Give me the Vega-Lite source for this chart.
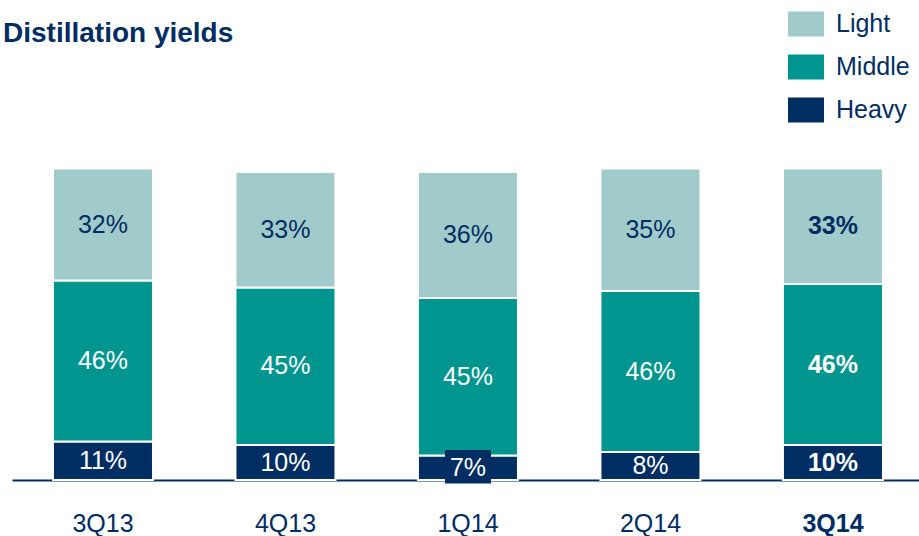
{
  "$schema": "https://vega.github.io/schema/vega-lite/v6.json",
  "width": 907,
  "height": 350,
  "autosize": {"type": "none"},
  "padding": {"left": 12, "top": 130, "right": 0, "bottom": 56},
  "background": "white",
  "title": {
    "text": "Distillation yields",
    "anchor": "start",
    "frame": "group",
    "font": "Liberation Sans",
    "fontSize": 28,
    "fontWeight": "bold",
    "color": "#002D62",
    "dx": -9,
    "baseline": "alphabetic",
    "offset": -64
  },
  "config": {
    "view": {"stroke": null},
    "font": "Liberation Sans"
  },
  "data": {
    "values": [
      {"q": "3Q13", "type": "Heavy", "v": 11},
      {"q": "3Q13", "type": "Middle", "v": 46},
      {"q": "3Q13", "type": "Light", "v": 32},
      {"q": "4Q13", "type": "Heavy", "v": 10},
      {"q": "4Q13", "type": "Middle", "v": 45},
      {"q": "4Q13", "type": "Light", "v": 33},
      {"q": "1Q14", "type": "Heavy", "v": 7},
      {"q": "1Q14", "type": "Middle", "v": 45},
      {"q": "1Q14", "type": "Light", "v": 36},
      {"q": "2Q14", "type": "Heavy", "v": 8},
      {"q": "2Q14", "type": "Middle", "v": 46},
      {"q": "2Q14", "type": "Light", "v": 35},
      {"q": "3Q14", "type": "Heavy", "v": 10},
      {"q": "3Q14", "type": "Middle", "v": 46},
      {"q": "3Q14", "type": "Light", "v": 33}
    ]
  },
  "transform": [
    {"calculate": "indexof(['Heavy','Middle','Light'], datum.type)", "as": "ord"},
    {"stack": "v", "groupby": ["q"], "sort": [{"field": "ord", "order": "ascending"}], "as": ["v0", "v1"]},
    {"calculate": "(datum.v0 + datum.v1) / 2", "as": "mid"},
    {"calculate": "datum.v + '%'", "as": "lab"}
  ],
  "encoding": {
    "x": {
      "field": "q",
      "type": "nominal",
      "sort": null,
      "scale": {"paddingInner": 0.452, "paddingOuter": 0.211, "align": 0.532},
      "axis": {
        "title": null,
        "ticks": false,
        "tickSize": 0,
        "domainColor": "#002D62",
        "domainWidth": 2,
        "labelFont": "Liberation Sans",
        "labelFontSize": 25,
        "labelColor": "#002D62",
        "labelAngle": 0,
        "labelBaseline": "alphabetic",
        "labelPadding": 51,
        "labelFontWeight": {"condition": {"test": "datum.value == '3Q14'", "value": "bold"}, "value": "normal"}
      }
    }
  },
  "layer": [
    {
      "mark": {"type": "bar", "stroke": "white", "strokeWidth": 2},
      "encoding": {
        "y": {"field": "v0", "type": "quantitative", "scale": {"domain": [0, 100]}, "axis": null},
        "y2": {"field": "v1"},
        "color": {
          "field": "type",
          "type": "nominal",
          "scale": {"domain": ["Light", "Middle", "Heavy"], "range": ["#A1CBCA", "#00968F", "#002D62"]},
          "legend": {
            "title": null,
            "orient": "none",
            "legendX": 776,
            "legendY": -124,
            "symbolType": "M-1,-0.694H1V0.694H-1Z",
            "symbolSize": 1296,
            "symbolStrokeWidth": 0,
            "symbolOpacity": 1,
            "labelFont": "Liberation Sans",
            "labelFontSize": 25,
            "labelColor": "#002D62",
            "labelOffset": 12,
            "rowPadding": 12,
            "padding": 0
          }
        }
      }
    },
    {
      "transform": [{"filter": "datum.q == '1Q14' && datum.type == 'Heavy'"}],
      "mark": {"type": "bar", "width": 46, "color": "#002D62"},
      "encoding": {
        "y": {"datum": -1, "type": "quantitative"},
        "y2": {"datum": 8.6}
      }
    },
    {
      "transform": [{"filter": "datum.q != '3Q14'"}],
      "mark": {"type": "text", "font": "Liberation Sans", "fontSize": 25, "baseline": "middle"},
      "encoding": {
        "y": {"field": "mid", "type": "quantitative"},
        "text": {"field": "lab"},
        "color": {"condition": {"test": "datum.type == 'Light'", "value": "#002D62"}, "value": "white"}
      }
    },
    {
      "transform": [{"filter": "datum.q == '3Q14'"}],
      "mark": {"type": "text", "font": "Liberation Sans", "fontSize": 25, "fontWeight": "bold", "baseline": "middle"},
      "encoding": {
        "y": {"field": "mid", "type": "quantitative"},
        "text": {"field": "lab"},
        "color": {"condition": {"test": "datum.type == 'Light'", "value": "#002D62"}, "value": "white"}
      }
    }
  ]
}
